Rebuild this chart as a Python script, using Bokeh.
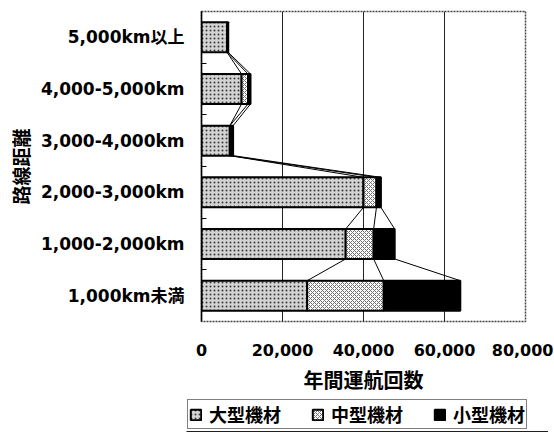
from bokeh.plotting import figure
from bokeh.layouts import column, row, Spacer
from bokeh.models import FixedTicker, Legend, LegendItem
from bokeh.embed import file_html
from bokeh.resources import INLINE

# ---- data ----
categories = ["1,000km未満", "1,000-2,000km", "2,000-3,000km",
              "3,000-4,000km", "4,000-5,000km", "5,000km以上"]
large = [26100, 35600, 40000, 7000, 9900, 6300]
medium = [18900, 6900, 3200, 0, 1600, 0]
small = [18900, 5200, 1100, 800, 600, 300]
series_names = ["大型機材", "中型機材", "小型機材"]
x_ticks = [0, 20000, 40000, 60000, 80000]
x_tick_labels = ["0", "20,000", "40,000", "60,000", "80,000"]
x_title = "年間運航回数"
y_title = "路線距離"

LAT = "DejaVu Sans"
MIX = "DejaVu Sans, Noto Sans CJK JP"
CJK = "Noto Sans CJK JP"

n = len(categories)
ys = list(range(n))
H = 0.58

cum1 = large[:]
cum2 = [a + b for a, b in zip(large, medium)]
cum3 = [a + b + c for a, b, c in zip(large, medium, small)]

style1 = dict(fill_color="#d4d4d4", hatch_pattern="dot", hatch_color="#3a3a3a",
              hatch_scale=4, hatch_weight=1.2, line_color="black", line_width=2)
style2 = dict(fill_color="white", hatch_pattern="diagonal_cross", hatch_color="#707070",
              hatch_scale=4, hatch_weight=1, line_color="black", line_width=2)
style3 = dict(fill_color="black", line_color="black", line_width=2)

p = figure(frame_width=324, frame_height=310, x_range=(0, 80000), y_range=(-0.5, n - 0.5),
           output_backend="svg", toolbar_location=None,
           min_border_left=201, min_border_right=28, min_border_top=11,
           min_border_bottom=77)
p.background_fill_color = "white"
p.border_fill_color = "white"
p.outline_line_color = "#444444"
p.outline_line_dash = "2 1"
p.outline_line_width = 1.5

# series lines between adjacent bars
for cum in (cum1, cum2, cum3):
    p.segment(x0=cum[:-1], y0=[y + H / 2 for y in ys[:-1]],
              x1=cum[1:], y1=[y - H / 2 for y in ys[1:]],
              line_color="black", line_width=1)

zeros = [0] * n
r1 = p.hbar(y=ys, left=zeros, right=cum1, height=H, **style1)
r2 = p.hbar(y=ys, left=cum1, right=cum2, height=H, **style2)
r3 = p.hbar(y=ys, left=cum2, right=cum3, height=H, **style3)

# x axis
xa = p.xaxis[0]
xa.ticker = FixedTicker(ticks=x_ticks)
xa.major_label_overrides = {t: l for t, l in zip(x_ticks, x_tick_labels)}
xa.axis_line_color = None
xa.major_tick_out = 0
xa.major_tick_in = 0
xa.minor_tick_out = 0
xa.major_label_standoff = 22
xa.major_label_text_font = LAT
xa.major_label_text_font_style = "bold"
xa.major_label_text_font_size = "16px"
xa.major_label_text_color = "black"
xa.axis_label = x_title
xa.axis_label_text_font = CJK
xa.axis_label_text_font_style = "bold"
xa.axis_label_text_font_size = "20px"
xa.axis_label_text_color = "black"
xa.axis_label_standoff = 6

# y axis
ya = p.yaxis[0]
ya.ticker = FixedTicker(ticks=ys, minor_ticks=[y + 0.5 for y in ys[:-1]])
ya.major_label_overrides = {y: c for y, c in zip(ys, categories)}
ya.axis_line_color = "black"
ya.axis_line_width = 1.5
ya.major_tick_in = 0
ya.major_tick_out = 0
ya.minor_tick_in = 5
ya.minor_tick_out = 0
ya.minor_tick_line_color = "black"
ya.major_label_standoff = 17
ya.major_label_text_font = MIX
ya.major_label_text_font_style = "bold"
ya.major_label_text_font_size = "17px"
ya.major_label_text_color = "black"
ya.axis_label = y_title
ya.axis_label_text_font = CJK
ya.axis_label_text_font_style = "bold"
ya.axis_label_text_font_size = "19px"
ya.axis_label_text_color = "black"
ya.axis_label_standoff = 4

p.xgrid.ticker = FixedTicker(ticks=[20000, 40000, 60000])
p.xgrid.grid_line_color = "#222222"
p.xgrid.grid_line_width = 1
p.ygrid.grid_line_color = None

# legend strip below the chart (swatch renderers sit outside its visible range)
lg = figure(frame_width=362, frame_height=34, x_range=(0, 1), y_range=(0, 1),
            output_backend="svg", toolbar_location=None, min_border=0)
lg.axis.visible = False
lg.grid.visible = False
lg.outline_line_color = None
lg.border_fill_color = "white"
lg.background_fill_color = "white"
l1 = lg.hbar(y=[-9], left=[0], right=[1], height=1, **style1)
l2 = lg.hbar(y=[-9], left=[0], right=[1], height=1, **style2)
l3 = lg.hbar(y=[-9], left=[0], right=[1], height=1, **style3)

legend = Legend(items=[LegendItem(label=series_names[0], renderers=[l1]),
                       LegendItem(label=series_names[1], renderers=[l2]),
                       LegendItem(label=series_names[2], renderers=[l3])],
                orientation="horizontal", location="top_left",
                label_text_font=CJK, label_text_font_style="bold",
                label_text_font_size="18px", label_text_color="black",
                glyph_width=13, glyph_height=13, label_standoff=7,
                spacing=30, padding=1, margin=1,
                border_line_color="black", border_line_width=1.5,
                background_fill_alpha=1)
lg.add_layout(legend)

layout = column(p, row(Spacer(width=186), lg, spacing=0), spacing=0)
open("out.html", "w").write(file_html(layout, INLINE))
